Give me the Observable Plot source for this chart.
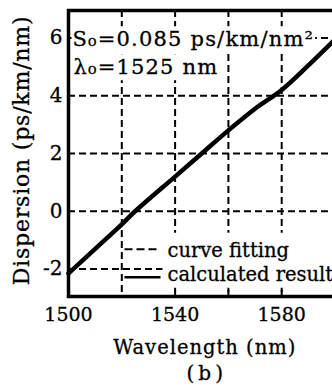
<!DOCTYPE html>
<html><head><meta charset="utf-8">
<script src="https://cdn.jsdelivr.net/npm/d3@7"></script>
<script src="https://cdn.jsdelivr.net/npm/@observablehq/plot@0.6"></script>
<style>body{margin:0;background:#fff;} #chart svg{overflow:hidden;display:block} #chart svg text{stroke:black;stroke-width:0.3px}</style>
</head><body><div id="chart"></div>
<script>
// data
const wavelength = [1500, 1510, 1520, 1525, 1540, 1550, 1560, 1570, 1580, 1590, 1600];
const dispersion = [-2.15, -1.3, -0.45, 0, 1.2, 2.0, 2.8, 3.55, 4.2, 5.05, 5.95];
const xTickLabels = [1500, 1540, 1580];
const xGridLines = [1520, 1540, 1560, 1580];
const xInnerTicks = [1540, 1560, 1580];
const yTicks = [-2, 0, 2, 4, 6];
const xDomain = [1500, 1600];
const yDomain = [-2.95, 6.95];
const annotationLines = ["S₀=0.085 ps/km/nm²", "λ₀=1525 nm"];
const legendLabels = ["curve fitting", "calculated result"];
const xTitle = "Wavelength (nm)";
const yTitle = "Dispersion (ps/km/nm)";
const panelLabel = "(b)";

const table = wavelength.map((w, i) => ({wavelength: w, dispersion: dispersion[i]}));
const dash = {stroke: "black", strokeOpacity: 1, strokeWidth: 2, strokeDasharray: "7,4"};

const plot = Plot.plot({
  width: 332, height: 387,
  marginLeft: 68, marginRight: -2.5, marginTop: 10, marginBottom: 91,
  x: {domain: xDomain},
  y: {domain: yDomain},
  style: {fontFamily: "DejaVu Serif", color: "black", background: "white", overflow: "hidden"},
  marks: [
    Plot.ruleX(xGridLines, {x: d => d, ...dash}),
    Plot.ruleY(yTicks, {y: d => d, ...dash}),
    Plot.text([annotationLines[0]], {text: d => d, frameAnchor: "top-left", textAnchor: "start", lineAnchor: "middle", dx: 4, dy: 29, fontSize: 21, fill: "black"}),
    Plot.text([annotationLines[1]], {text: d => d, frameAnchor: "top-left", textAnchor: "start", lineAnchor: "middle", dx: 5, dy: 57, fontSize: 21, fill: "black"}),
    Plot.text([legendLabels[0]], {text: d => d, frameAnchor: "bottom-left", textAnchor: "start", lineAnchor: "middle", dx: 99, dy: -46, fontSize: 19.5, fill: "black"}),
    Plot.text([legendLabels[1]], {text: d => d, frameAnchor: "bottom-left", textAnchor: "start", lineAnchor: "middle", dx: 99, dy: -22, fontSize: 19.5, fill: "black"}),
    Plot.ruleX(xInnerTicks, {x: d => d, y1: yDomain[0], y2: yDomain[0], insetTop: -6, stroke: "black", strokeWidth: 2}),
    Plot.axisX({ticks: xTickLabels, tickSize: 0, tickPadding: 11, fontSize: 19, tickFormat: d => String(d), label: null}),
    Plot.axisY({ticks: yTicks, tickSize: 0, tickPadding: 6, fontSize: 20, tickFormat: d => String(d), label: null}),
    Plot.frame({stroke: "black", strokeWidth: 3.5}),
    Plot.line(table, {x: "wavelength", y: "dispersion", stroke: "black", strokeWidth: 4.5, curve: "catmull-rom"}),
    Plot.text([yTitle], {text: d => d, frameAnchor: "left", textAnchor: "middle", lineAnchor: "middle", rotate: -90, dx: -47, dy: -3, fontSize: 22, fill: "black"}),
    Plot.text([xTitle], {text: d => d, frameAnchor: "bottom", textAnchor: "middle", lineAnchor: "middle", dx: 3, dy: 51, fontSize: 19.5, fill: "black"}),
    Plot.text([panelLabel], {text: d => d, frameAnchor: "bottom", textAnchor: "middle", lineAnchor: "middle", dx: 5, dy: 77, fontSize: 20, fill: "black"})
  ]
});
document.getElementById("chart").append(plot);

const svgNode = plot.tagName.toLowerCase() === "svg" ? plot : plot.querySelector("svg");
const NS = "http://www.w3.org/2000/svg";
const svgWidth = 332;

// letter spacing to match the wide scanned type
const spacing = new Map([
  [annotationLines[0], 1.2], [annotationLines[1], 1.2],
  [yTitle, 0.8], [xTitle, 1], [panelLabel, 4]
]);
Array.from(svgNode.querySelectorAll("text")).forEach(t => {
  if (spacing.has(t.textContent)) t.style.letterSpacing = spacing.get(t.textContent) + "px";
});

// white boxes behind annotation and legend texts (all placed before the first text group), and legend samples
const origin = svgNode.getBoundingClientRect();
const legendBoxes = [];
let firstGroup = null;
const rects = [];
Array.from(svgNode.querySelectorAll("text")).forEach(t => {
  const label = t.textContent;
  const isLegend = legendLabels.includes(label);
  const isNote = annotationLines.includes(label);
  if (!isLegend && !isNote) return;
  const r = t.getBoundingClientRect();
  const b = {x: r.left - origin.left, y: r.top - origin.top, w: r.width, h: r.height};
  if (isLegend) legendBoxes.push(b);
  const padX = isLegend ? 5 : 1;
  const padT = isLegend ? 6 : 1;
  const padB = isLegend ? 2 : 1;
  let g = t;
  while (g.parentNode !== svgNode) g = g.parentNode;
  if (!firstGroup) firstGroup = g;
  const rect = document.createElementNS(NS, "rect");
  rect.setAttribute("x", b.x - padX);
  rect.setAttribute("y", b.y - padT);
  rect.setAttribute("width", isLegend ? svgWidth - (b.x - padX) : b.w + 2 * padX);
  rect.setAttribute("height", b.h + padT + padB);
  rect.setAttribute("fill", "white");
  rects.push(rect);
});
rects.forEach(rect => svgNode.insertBefore(rect, firstGroup));
legendBoxes.forEach((b, i) => {
  const cy = b.y + b.h / 2 + (i === 0 ? -1 : 3);
  const line = document.createElementNS(NS, "line");
  line.setAttribute("x1", b.x - 43);
  line.setAttribute("x2", b.x - 7);
  line.setAttribute("y1", cy);
  line.setAttribute("y2", cy);
  line.setAttribute("stroke", "black");
  line.setAttribute("stroke-width", i === 0 ? 2 : 2.5);
  if (i === 0) line.setAttribute("stroke-dasharray", "8,4");
  svgNode.appendChild(line);
});
</script>
</body></html>
